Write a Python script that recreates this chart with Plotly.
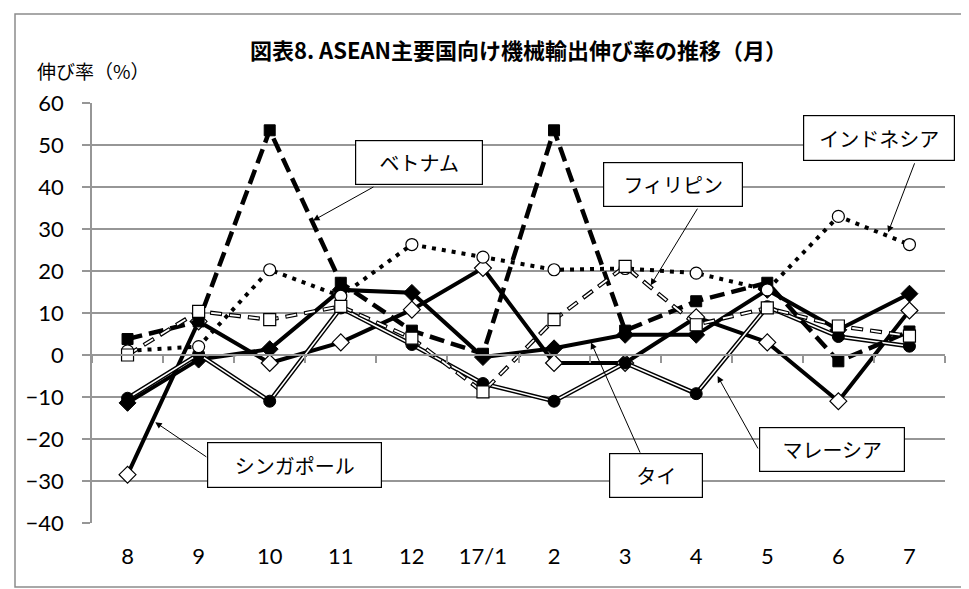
import plotly.graph_objects as go

# ---------------- data ----------------
months = ["8", "9", "10", "11", "12", "17/1", "2", "3", "4", "5", "6", "7"]
vietnam = [3.8, 8.0, 53.5, 17.2, 5.8, 0.3, 53.5, 5.8, 12.8, 17.2, -1.5, 5.6]
indonesia = [1.0, 2.0, 20.3, 14.0, 26.3, 23.3, 20.3, 20.6, 19.5, 15.5, 33.0, 26.3]
philippines = [0.0, 10.4, 8.4, 11.6, 4.0, -8.8, 8.4, 21.1, 7.2, 11.2, 6.9, 4.5]
thailand = [-11.4, -1.1, 1.4, 15.5, 14.8, -0.5, 1.6, 4.8, 4.8, 15.5, 6.0, 14.6]
malaysia = [-10.3, 0.2, -11.0, 11.2, 2.5, -6.8, -11.0, -1.9, -9.2, 11.5, 4.4, 2.1]
singapore = [-28.5, 8.0, -1.9, 3.0, 10.8, 20.7, -1.9, -1.9, 9.0, 3.0, -11.0, 10.6]

title_text = "図表8. ASEAN主要国向け機械輸出伸び率の推移（月）"
ytitle_text = "伸び率（%）"
y_ticks = [-40, -30, -20, -10, 0, 10, 20, 30, 40, 50, 60]

GRID = "#969696"
CJK = "Noto Sans CJK JP"
NUM = "Lato"

fig = go.Figure()

# Thailand: thick solid, filled diamonds
fig.add_trace(go.Scatter(x=months, y=thailand, mode="lines+markers", name="タイ",
                         line=dict(color="black", width=4),
                         marker=dict(symbol="diamond", size=13, color="black",
                                     line=dict(color="black", width=1))))
# Singapore: thick solid, open diamonds
fig.add_trace(go.Scatter(x=months, y=singapore, mode="lines+markers", name="シンガポール",
                         line=dict(color="black", width=4),
                         marker=dict(symbol="diamond", size=13, color="white",
                                     line=dict(color="black", width=1.2))))
# Malaysia: double line, filled circles
fig.add_trace(go.Scatter(x=months, y=malaysia, mode="lines", name="マレーシア",
                         line=dict(color="black", width=4.5), showlegend=False))
fig.add_trace(go.Scatter(x=months, y=malaysia, mode="lines+markers", name="マレーシア",
                         line=dict(color="white", width=1.6),
                         marker=dict(symbol="circle", size=12, color="black",
                                     line=dict(color="black", width=1))))
# Vietnam: thick dashed, filled squares
fig.add_trace(go.Scatter(x=months, y=vietnam, mode="lines+markers", name="ベトナム",
                         line=dict(color="black", width=4.5, dash="15px,7px"),
                         marker=dict(symbol="square", size=11, color="black",
                                     line=dict(color="black", width=1))))
# Indonesia: dotted, open circles
fig.add_trace(go.Scatter(x=months, y=indonesia, mode="lines+markers", name="インドネシア",
                         line=dict(color="black", width=4, dash="4px,6px"),
                         marker=dict(symbol="circle", size=12, color="white",
                                     line=dict(color="black", width=1.2))))
# Philippines: double dashed, open squares
fig.add_trace(go.Scatter(x=months, y=philippines, mode="lines", name="フィリピン",
                         line=dict(color="black", width=4.2, dash="12px,7px"), showlegend=False))
fig.add_trace(go.Scatter(x=months, y=philippines, mode="lines+markers", name="フィリピン",
                         line=dict(color="white", width=1.8, dash="0px,1px,10px,8px"),
                         marker=dict(symbol="square", size=12, color="white",
                                     line=dict(color="black", width=1.2))))

# helper trace for the category axis drawn at y = 0
fig.add_trace(go.Scatter(x=months, y=[None] * len(months), xaxis="x2", mode="lines",
                         showlegend=False, hoverinfo="skip"))

# ---------------- callouts ----------------
# (label, arrow tip (x idx, y), arrow start (x idx, y), box centre (x idx, y), box w, box h)
callouts = [
    ("ベトナム", (2.61, 32.0), (3.48, 40.2), (4.10, 45.8), 128, 45),
    ("フィリピン", (7.36, 16.6), (8.03, 35.2), (7.67, 40.6), 140, 45),
    ("インドネシア", (10.70, 29.2), (11.08, 46.0), (10.57, 51.7), 152, 46),
    ("シンガポール", (0.39, -16.0), (1.13, -24.5), (2.35, -26.2), 175, 46),
    ("タイ", (6.52, 3.0), (7.22, -23.6), (7.43, -28.8), 94, 45),
    ("マレーシア", (8.30, -5.0), (8.88, -22.6), (9.91, -22.4), 146, 45),
]
annotations = []
for label, tip, start, box, w, h in callouts:
    annotations.append(dict(x=tip[0], y=tip[1], xref="x", yref="y",
                            ax=start[0], ay=start[1], axref="x", ayref="y",
                            text="", showarrow=True, arrowhead=2, arrowsize=1.3,
                            arrowwidth=1, arrowcolor="black"))
    annotations.append(dict(x=box[0], y=box[1], xref="x", yref="y", text=label,
                            showarrow=False, bgcolor="white", bordercolor="black",
                            borderwidth=1.2, borderpad=0, width=w - 2, height=h - 2,
                            font=dict(family=CJK, size=20, color="black"),
                            xanchor="center", yanchor="middle"))

annotations.append(dict(x=(27 - 84) / 853, y=(515 - 62) / 420, xref="paper", yref="paper",
                        text=ytitle_text, showarrow=False, xanchor="left", yanchor="middle",
                        font=dict(family=CJK, size=19, color="black")))

fig.update_layout(
    width=969, height=589,
    margin=dict(l=84, r=32, t=95, b=74),
    paper_bgcolor="white", plot_bgcolor="white",
    showlegend=False,
    title=dict(text="<b>" + title_text + "</b>", x=510.5 / 969, xanchor="center",
               y=1 - 43 / 589, yanchor="middle", xref="container", yref="container",
               font=dict(family=CJK, size=22, color="black")),
    xaxis=dict(type="category", categoryorder="array", categoryarray=months,
               range=[-0.5, 11.5], showgrid=False, showline=False, ticks="",
               zeroline=False, tickfont=dict(family=NUM, size=22, color="black"),
               ticklabelstandoff=18),
    xaxis2=dict(type="category", categoryorder="array", categoryarray=months,
                range=[-0.5, 11.5], overlaying="x", anchor="free", position=0.4,
                side="bottom", ticks="outside", tickson="boundaries", ticklen=7,
                tickcolor=GRID, tickwidth=1.5, showticklabels=False, showline=True,
                linecolor=GRID, linewidth=1.5, showgrid=False, zeroline=False),
    yaxis=dict(range=[-40, 60], tickvals=y_ticks, showgrid=True, gridcolor=GRID,
               gridwidth=1.5, showline=True, linecolor=GRID, linewidth=1.5,
               ticks="outside", ticklen=8, tickcolor=GRID, tickwidth=1.5,
               zeroline=False, tickfont=dict(family=NUM, size=22, color="black"),
               ticklabelstandoff=14),
    annotations=annotations,
    shapes=[dict(type="rect", xref="paper", yref="paper",
                 x0=(7 - 84) / 853, x1=(965 - 84) / 853,
                 y0=(515 - 579) / 420, y1=(515 - 6) / 420,
                 line=dict(color="#8c8c8c", width=1.5), fillcolor="rgba(0,0,0,0)",
                 layer="below")],
)

fig.write_html("out.html")
